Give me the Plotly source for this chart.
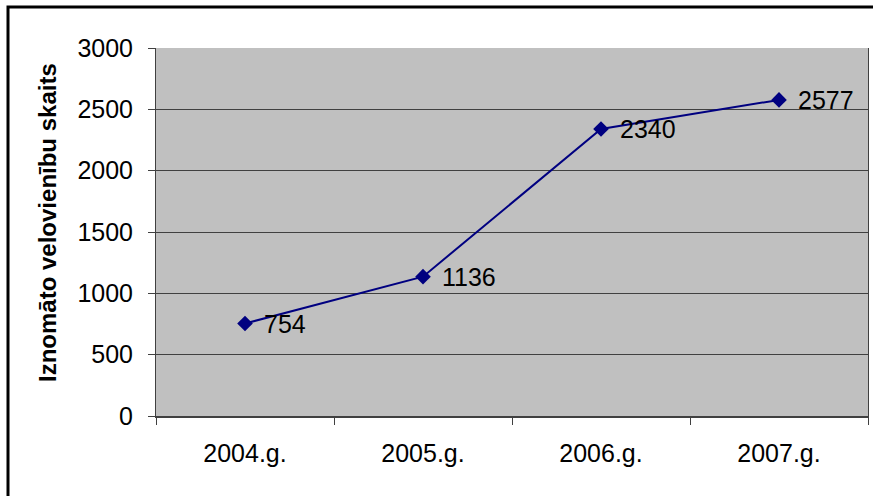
import plotly.graph_objects as go

# Rental bike counts per year
years = ["2004.g.", "2005.g.", "2006.g.", "2007.g."]
rentals = [754, 1136, 2340, 2577]
y_ticks = [0, 500, 1000, 1500, 2000, 2500, 3000]
y_title = "Iznomāto velovienību skaits"

W, H = 873, 496
ML, MR, MT, MB = 156, 5, 48, 80
pw = W - ML - MR
ph = H - MT - MB

def px_x(p):
    return (p - ML) / pw

def px_y(p):
    return (H - MB - p) / ph

FONT = "Liberation Sans, Arial"

fig = go.Figure()
fig.add_trace(go.Scatter(
    x=years, y=rentals,
    mode="lines+markers",
    line=dict(color="#000080", width=2),
    marker=dict(symbol="diamond", size=12, color="#000080"),
    showlegend=False,
))

# value labels to the right of each point
labels = [
    dict(x=yr, y=v, text=str(v), showarrow=False,
         xanchor="left", yanchor="middle", xshift=17,
         font=dict(family=FONT, size=25, color="#000000"))
    for yr, v in zip(years, rentals)
]

# vertical axis title
labels.append(dict(
    xref="paper", yref="paper", x=px_x(47), y=px_y(222),
    text="<b>" + y_title + "</b>", textangle=-90, showarrow=False,
    xanchor="center", yanchor="middle",
    font=dict(family=FONT, size=24, color="#000000"),
))

axis_font = dict(family=FONT, size=25, color="#000000")

fig.update_layout(
    width=W, height=H,
    margin=dict(l=ML, r=MR, t=MT, b=MB, autoexpand=False),
    paper_bgcolor="#FFFFFF",
    plot_bgcolor="#C0C0C0",
    annotations=labels,
    xaxis=dict(
        type="category",
        range=[-0.5, 3.5],
        tickson="boundaries",
        ticks="outside", ticklen=7, tickcolor="#404040", tickwidth=1,
        showgrid=False,
        showline=True, linecolor="#404040", linewidth=2,
        tickfont=axis_font,
        ticklabelstandoff=14,
        zeroline=False,
    ),
    yaxis=dict(
        range=[0, 3000],
        tickvals=y_ticks,
        ticktext=[str(v) for v in y_ticks],
        ticks="outside", ticklen=7, tickcolor="#404040", tickwidth=1,
        showgrid=True, gridcolor="#404040", gridwidth=1,
        showline=True, linecolor="#404040", linewidth=1, mirror=True,
        tickfont=axis_font,
        ticklabelstandoff=10,
        zeroline=False,
    ),
    shapes=[
        dict(
            type="rect", xref="paper", yref="paper",
            x0=px_x(8), x1=px_x(885), y0=px_y(510), y1=px_y(7),
            line=dict(color="#000000", width=3),
            fillcolor="rgba(0,0,0,0)",
            layer="above",
        )
    ],
)

fig.write_html("out.html")
